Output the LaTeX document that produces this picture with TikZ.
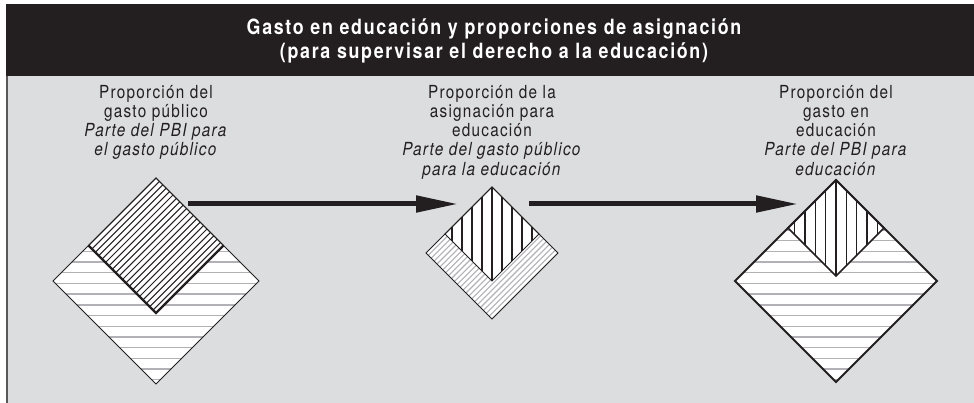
\documentclass[tikz,border=0pt]{standalone}
\usepackage{fontspec}
\setmainfont{TeX Gyre Heros}[FakeStretch=0.85, LetterSpace=7]
\newfontfamily\titlefont{TeX Gyre Heros}[FakeStretch=0.85, LetterSpace=8]
\usetikzlibrary{arrows.meta}
\definecolor{bg}{RGB}{220,221,223}
\definecolor{band}{RGB}{35,31,32}
\definecolor{hatchgray}{RGB}{178,178,182}
\definecolor{ink}{RGB}{35,31,32}
\tikzset{
  label/.style={inner sep=0pt, align=center, text=ink, anchor=north,
    font=\fontsize{18}{19.2}\selectfont},
  titletext/.style={inner sep=0pt, align=center, text=white,
    font=\titlefont\bfseries\fontsize{21}{24.5}\selectfont},
  flowarrow/.style={line width=5pt, draw=ink, -{Triangle[length=42pt, width=16pt]}},
  gline/.style={hatchgray, line width=1.4pt},
  bline/.style={ink, line width=1.3pt},
  edge/.style={ink, line width=0.8pt, line join=miter},
}
\begin{document}
\begin{tikzpicture}[x=1pt,y=-1pt]
\useasboundingbox (0,0) rectangle (974,403);
\fill[white] (0,0) rectangle (974,403);
\fill[bg] (6,76) rectangle (974,403);
\fill[band] (6,4) rectangle (974,76);
\draw[ink!75, line width=1.5pt] (6.75,76) -- (6.75,403);

\node[titletext] (title) at (494,41) {Gasto en educación y proporciones de asignación\\(para supervisar el derecho a la educación)};

\node[label] (t1) at (156,85) {Proporción del\\gasto público\\\textit{Parte del PBI para}\\\textit{el gasto público}};
\node[label] (t2) at (492,85) {Proporción de la\\asignación para\\educación\\\textit{Parte del gasto público}\\\textit{para la educación}};
\node[label] (t3) at (836,85) {Proporción del\\gasto en\\educación\\\textit{Parte del PBI para}\\\textit{educación}};

% ---------- Diamond 1 ----------
\coordinate (d1) at (156,281);
\begin{scope}
  \clip (156,178) -- (259,281) -- (156,384) -- (53,281) -- cycle;
  \fill[white] (50,170) rectangle (262,390);
  \foreach \i in {0,...,20} \draw[gline] (50,176.4+\i*10.7) -- (262,176.4+\i*10.7);
\end{scope}
\begin{scope}
  \clip (156,178) -- (223.5,245.5) -- (156,313) -- (88.5,245.5) -- cycle;
  \fill[white] (80,170) rectangle (230,320);
  \foreach \c in {0,...,20} \draw[ink, line width=1pt] (334+\c*6.8-420,420) -- (334+\c*6.8,0);
\end{scope}
\draw[edge] (156,178) -- (259,281) -- (156,384) -- (53,281) -- cycle;
\draw[edge] (88.5,245.5) -- (156,178) -- (223.5,245.5);
\draw[ink, line width=2.2pt] (223.5,245.5) -- (156,313) -- (88.5,245.5);

% ---------- Diamond 2 ----------
\coordinate (d2) at (492,253);
\begin{scope}
  \clip (492,187) -- (558,253) -- (492,319) -- (426,253) -- cycle;
  \fill[white] (420,180) rectangle (565,325);
  \foreach \c in {0,...,26} \draw[hatchgray, line width=1.1pt] (672+\c*5.8-420,420) -- (672+\c*5.8,0);
\end{scope}
\begin{scope}
  \clip (492,187) -- (539,234) -- (492,281) -- (445,234) -- cycle;
  \fill[white] (440,180) rectangle (545,290);
  \foreach \k in {-5,...,5} \draw[bline] (492+\k*10,180) -- (492+\k*10,290);
\end{scope}
\draw[edge] (492,187) -- (558,253) -- (492,319) -- (426,253) -- cycle;
\draw[edge] (445,234) -- (492,187) -- (539,234) -- (492,281) -- cycle;

% ---------- Diamond 3 ----------
\coordinate (d3) at (836,281);
\begin{scope}
  \clip (836,180) -- (937,281) -- (836,382) -- (735,281) -- cycle;
  \fill[white] (730,175) rectangle (942,388);
  \foreach \i in {0,...,20} \draw[gline] (730,176.4+\i*10.7) -- (942,176.4+\i*10.7);
\end{scope}
\begin{scope}
  \clip (836,180) -- (884,228) -- (836,276) -- (788,228) -- cycle;
  \fill[white] (780,175) rectangle (890,280);
  \foreach \k in {-5,...,5} \draw[bline] (836+\k*10.3,175) -- (836+\k*10.3,280);
\end{scope}
\draw[ink, line width=1.5pt, line join=miter] (788,228) -- (836,180) -- (884,228) -- (836,276) -- cycle;
\draw[ink, line width=2pt, line join=miter] (836,180) -- (937,281) -- (836,382) -- (735,281) -- cycle;

% ---------- Arrows ----------
\coordinate (a1s) at (188,204);
\coordinate (a1e) at (458,204);
\coordinate (a2s) at (529,204);
\coordinate (a2e) at (798,204);
\draw[flowarrow] (a1s) -- (a1e);
\draw[flowarrow] (a2s) -- (a2e);
\end{tikzpicture}
\end{document}
